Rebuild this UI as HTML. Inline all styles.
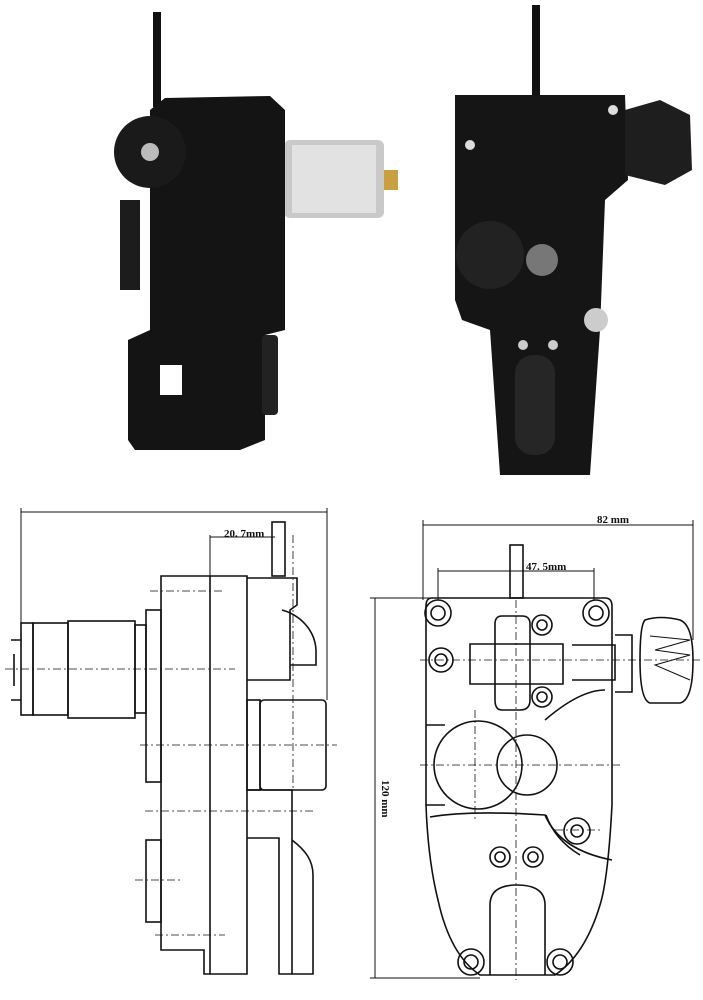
<!DOCTYPE html>
<html><head><meta charset="utf-8"><style>body{margin:0;background:#fff}svg{display:block}</style></head><body>
<svg width="703" height="1000" viewBox="0 0 703 1000" xmlns="http://www.w3.org/2000/svg" font-family="Liberation Serif, serif">
<!-- TOP LEFT PHOTO -->
<rect x="153" y="12" width="8" height="95" fill="#111"/>
<rect x="284" y="140" width="100" height="78" rx="6" fill="#c9c9c9"/>
<rect x="292" y="145" width="84" height="68" fill="#e2e2e2"/>
<rect x="384" y="170" width="14" height="20" fill="#c8a040"/>
<path d="M165 98 L270 96 L285 110 L285 330 L265 335 L265 440 L240 450 L135 450 L128 440 L128 340 L150 330 L150 110 Z" fill="#141414"/>
<rect x="120" y="200" width="20" height="90" fill="#1c1c1c"/>
<rect x="262" y="335" width="16" height="80" rx="4" fill="#222"/>
<rect x="160" y="365" width="22" height="30" fill="#fff"/>
<circle cx="150" cy="152" r="36" fill="#1a1a1a"/>
<circle cx="150" cy="152" r="9" fill="#bbb"/>
<!-- TOP RIGHT PHOTO -->
<rect x="532" y="5" width="8" height="100" fill="#111"/>
<path d="M455 95 L625 95 L628 180 L605 200 L600 330 L590 475 L500 475 L490 330 L462 320 L455 300 Z" fill="#151515"/>
<path d="M625 110 L660 100 L690 115 L692 170 L665 185 L625 175 Z" fill="#1e1e1e"/>
<circle cx="490" cy="255" r="34" fill="#222"/>
<circle cx="542" cy="260" r="16" fill="#777"/>
<circle cx="596" cy="320" r="12" fill="#ccc"/>
<circle cx="470" cy="145" r="5" fill="#ddd"/><circle cx="613" cy="110" r="5" fill="#ddd"/>
<circle cx="523" cy="345" r="5" fill="#ccc"/><circle cx="553" cy="345" r="5" fill="#ccc"/>
<rect x="515" y="355" width="40" height="100" rx="18" fill="#262626"/>
<g fill="none" stroke="#111" stroke-width="1.6">
<!-- LEFT DRAWING -->
<line x1="21" y1="512" x2="327" y2="512" stroke-width="1"/>
<line x1="21" y1="508" x2="21" y2="625" stroke-width="1"/>
<line x1="327" y1="508" x2="327" y2="700" stroke-width="1"/>
<line x1="210" y1="537" x2="275" y2="537" stroke-width="1"/>
<line x1="210" y1="535" x2="210" y2="576" stroke-width="1"/>
<rect x="272" y="522" width="13" height="54"/>
<path d="M161 576 H210 V974 H204 V950 H161 Z"/>
<path d="M210 576 H247 V974 H210"/>
<path d="M247 578 H297 V605 L290 610 V680 H247"/>
<path d="M282 610 C300 615 315 630 316 650 V665 H290"/>
<rect x="260" y="700" width="66" height="90" rx="4"/>
<rect x="247" y="700" width="13" height="90"/>
<path d="M247 790 H292 V974 H279 V838 H247"/>
<path d="M292 840 C305 850 313 860 313 875 V974 H292"/>
<rect x="21" y="623" width="12" height="92"/>
<rect x="33" y="623" width="35" height="92"/>
<rect x="68" y="621" width="67" height="97"/>
<rect x="135" y="625" width="11" height="88"/>
<rect x="146" y="610" width="15" height="172"/>
<rect x="146" y="840" width="15" height="82"/>
<path d="M11 640 H21 M11 700 H21 M14 654 V686"/>
<g stroke-width="0.8" stroke-dasharray="8 3 2 3">
<line x1="150" y1="591" x2="225" y2="591"/><line x1="5" y1="669" x2="235" y2="669"/>
<line x1="140" y1="745" x2="337" y2="745"/><line x1="145" y1="811" x2="315" y2="811"/>
<line x1="135" y1="880" x2="180" y2="880"/><line x1="155" y1="935" x2="225" y2="935"/>
<line x1="293" y1="535" x2="293" y2="790"/>
</g>
<!-- RIGHT DRAWING -->
<line x1="423" y1="525" x2="693" y2="525" stroke-width="1"/>
<line x1="423" y1="520" x2="423" y2="600" stroke-width="1"/>
<line x1="693" y1="520" x2="693" y2="640" stroke-width="1"/>
<line x1="438" y1="571" x2="594" y2="571" stroke-width="1"/>
<line x1="438" y1="568" x2="438" y2="600" stroke-width="1"/>
<line x1="594" y1="568" x2="594" y2="600" stroke-width="1"/>
<line x1="375" y1="598" x2="375" y2="978" stroke-width="1"/>
<line x1="370" y1="598" x2="430" y2="598" stroke-width="1"/>
<line x1="370" y1="978" x2="480" y2="978" stroke-width="1"/>
<rect x="510" y="545" width="13" height="53"/>
<path d="M432 598 H605 Q612 598 612 606 V805 Q608 880 600 905 Q585 955 555 975 H480 Q450 955 438 900 Q428 860 426 805 V606 Q426 598 432 598 Z"/>
<path d="M470 644 H563 V684 H470 Z"/>
<path d="M502 616 H522 Q530 616 530 624 V700 Q530 710 520 710 H502 Q495 710 495 700 V624 Q495 616 502 616 Z"/>
<path d="M572 645 H615 V680 H572"/>
<path d="M615 635 H632 V692 H615"/>
<path d="M645 620 Q660 615 680 620 Q693 625 693 660 Q693 700 680 703 H650 Q640 700 640 660 Q640 625 645 620 Z"/>
<path d="M650 636 L690 640 L655 650 L690 655 L655 665 L690 680" stroke-width="1"/>
<circle cx="478" cy="765" r="44"/>
<circle cx="527" cy="765" r="30"/>
<path d="M426 725 H445 M426 805 H445"/>
<path d="M430 817 Q470 810 545 815 Q560 850 612 860" />
<path d="M545 720 Q580 690 605 690"/>
<path d="M546 815 Q555 840 580 855"/>
<path d="M490 975 V905 Q490 885 517 885 Q545 885 545 905 V975"/>
<g>
<circle cx="438" cy="613" r="13"/><circle cx="438" cy="613" r="7"/>
<circle cx="596" cy="613" r="13"/><circle cx="596" cy="613" r="7"/>
<circle cx="441" cy="660" r="12"/><circle cx="441" cy="660" r="6"/>
<circle cx="542" cy="625" r="10"/><circle cx="542" cy="625" r="5"/>
<circle cx="542" cy="697" r="10"/><circle cx="542" cy="697" r="5"/>
<circle cx="577" cy="831" r="13"/><circle cx="577" cy="831" r="6"/>
<circle cx="500" cy="857" r="10"/><circle cx="500" cy="857" r="5"/>
<circle cx="533" cy="857" r="10"/><circle cx="533" cy="857" r="5"/>
<circle cx="471" cy="962" r="13"/><circle cx="471" cy="962" r="7"/>
<circle cx="560" cy="962" r="13"/><circle cx="560" cy="962" r="7"/>
</g>
<g stroke-width="0.8" stroke-dasharray="8 3 2 3">
<line x1="516" y1="600" x2="516" y2="980"/><line x1="420" y1="660" x2="700" y2="660"/>
<line x1="420" y1="765" x2="620" y2="765"/><line x1="475" y1="710" x2="475" y2="820"/>
<line x1="555" y1="830" x2="600" y2="830"/>
</g>
</g>
<g font-size="11" fill="#111" font-weight="bold">
<text x="224" y="537">20. 7mm</text>
<text x="597" y="523">82 mm</text>
<text x="526" y="570">47. 5mm</text>
<text transform="translate(382,780) rotate(90)">120 mm</text>
</g>
</svg>
</body></html>
